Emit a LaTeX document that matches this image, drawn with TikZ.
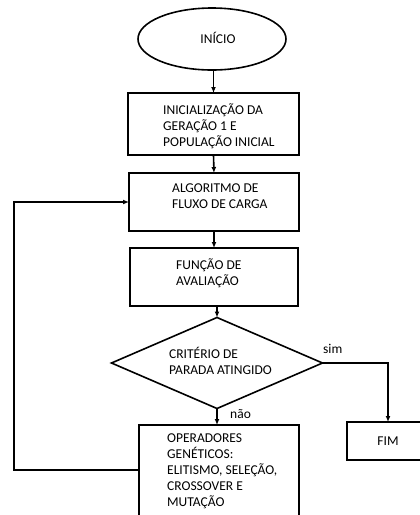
\documentclass[tikz,border=0pt]{standalone}
\usepackage{fontspec}
\setmainfont{Carlito}
\usetikzlibrary{shapes.geometric,arrows.meta}

\tikzset{
  block/.style={draw, line width=1.6pt, inner sep=0pt, outer sep=0pt},
  txt/.style={inner sep=0pt, align=left, anchor=west},
  arr/.style={line width=1.6pt, -{Latex[length=6pt,width=5pt]}},
}

\begin{document}
\begin{tikzpicture}[x=1pt, y=-1pt, font=\fontsize{13.5}{16}\selectfont]
  \useasboundingbox (0,0) rectangle (420,515);

  % Define nodes
  \node[block, ellipse, minimum width=148pt, minimum height=62pt] (start) at (212,39) {};
  \node[block, minimum width=171pt, minimum height=62pt]  (init)    at (213.5,124) {};
  \node[block, minimum width=170pt, minimum height=58pt]  (flow)    at (214,202) {};
  \node[block, minimum width=168pt, minimum height=58pt]  (fitness) at (214,277) {};
  \node[block, diamond, minimum width=211pt, minimum height=91pt] (crit) at (217,363) {};
  \node[block, minimum width=160pt, minimum height=100pt] (genops)  at (219,475) {};
  \node[block, minimum width=82pt, minimum height=38pt]   (fim)     at (388,441) {};

  % Texts
  \node[txt, anchor=center] (start-txt) at (218,38) {INÍCIO};
  \node[txt] (init-txt)    at (163,126)   {INICIALIZAÇÃO DA\\GERAÇÃO 1 E\\POPULAÇÃO INICIAL};
  \node[txt] (flow-txt)    at (172,196)   {ALGORITMO DE\\FLUXO DE CARGA};
  \node[txt] (fitness-txt) at (176,273.5) {FUNÇÃO DE\\AVALIAÇÃO};
  \node[txt] (crit-txt)    at (169,361)   {CRITÉRIO DE\\PARADA ATINGIDO};
  \node[txt] (genops-txt)  at (167,471.5) {OPERADORES\\GENÉTICOS:\\ELITISMO, SELEÇÃO,\\CROSSOVER E\\MUTAÇÃO};
  \node[txt, anchor=center] (fim-txt) at (388,441) {FIM};
  \node[txt] (yes) at (323,349) {sim};
  \node[txt] (no)  at (230,414) {não};

  % Connect the nodes
  \draw[arr] (start.south -| init.north) -- (init.north);
  \draw[arr] (init.south) -- (flow.north);
  \draw[arr] (flow.south) -- (fitness.north);
  \draw[arr] (fitness.south -| crit.north) -- (crit.north);
  \draw[arr] (crit.south) -- (crit.south |- genops.north);
  \draw[arr] (crit.east) -| (fim.north);

  % Loop back
  \coordinate (back) at (14,202);
  \draw[arr] ([yshift=5pt]genops.west) -| (back) -- (flow.west);

\end{tikzpicture}
\end{document}
